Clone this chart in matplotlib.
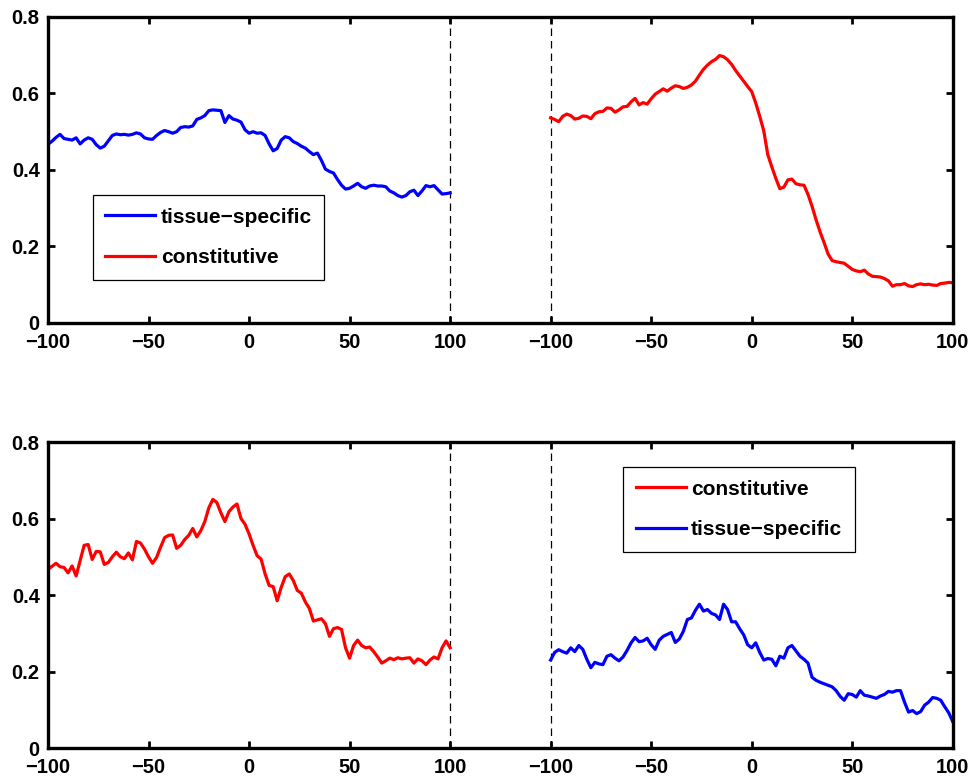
import numpy as np
import matplotlib.pyplot as plt

plt.rcParams['font.family'] = ['Liberation Sans', 'DejaVu Sans']
plt.rcParams['font.weight'] = 'bold'

# position relative to the site, sampled every 2
pos = np.arange(-100, 101, 2)
gap_shift = 250  # right-hand segment is drawn shifted along x

top_tissue = [
    0.467, 0.475, 0.485, 0.493, 0.482, 0.480, 0.478, 0.484, 0.468, 0.478,
    0.484, 0.480, 0.466, 0.457, 0.462, 0.476, 0.490, 0.494, 0.492, 0.493,
    0.491, 0.493, 0.497, 0.494, 0.484, 0.481, 0.480, 0.490, 0.498, 0.503,
    0.500, 0.496, 0.500, 0.511, 0.513, 0.512, 0.515, 0.532, 0.536, 0.542,
    0.555, 0.557, 0.556, 0.555, 0.524, 0.542, 0.533, 0.530, 0.525, 0.505,
    0.496, 0.500, 0.496, 0.497, 0.490, 0.468, 0.450, 0.456, 0.478, 0.487,
    0.484, 0.474, 0.469, 0.462, 0.457, 0.448, 0.440, 0.444, 0.425, 0.402,
    0.396, 0.392, 0.375, 0.360, 0.350, 0.352, 0.358, 0.365, 0.356, 0.352,
    0.358, 0.360, 0.358, 0.358, 0.356, 0.345, 0.340, 0.333, 0.329, 0.333,
    0.343, 0.347, 0.333, 0.345, 0.359, 0.356, 0.359, 0.348, 0.337, 0.338,
    0.340,
]
top_const = [
    0.536, 0.532, 0.526, 0.540, 0.546, 0.542, 0.533, 0.535, 0.541, 0.540,
    0.534, 0.547, 0.552, 0.553, 0.562, 0.561, 0.551, 0.557, 0.565, 0.566,
    0.578, 0.587, 0.570, 0.576, 0.572, 0.586, 0.598, 0.605, 0.612, 0.606,
    0.614, 0.620, 0.618, 0.613, 0.616, 0.622, 0.632, 0.648, 0.663, 0.674,
    0.683, 0.689, 0.699, 0.696, 0.688, 0.676, 0.660, 0.646, 0.632, 0.618,
    0.605, 0.575, 0.540, 0.502, 0.440, 0.408, 0.378, 0.351, 0.355, 0.374,
    0.376, 0.364, 0.361, 0.360, 0.336, 0.305, 0.270, 0.238, 0.210, 0.180,
    0.163, 0.160, 0.158, 0.156, 0.148, 0.140, 0.136, 0.134, 0.138, 0.128,
    0.122, 0.121, 0.120, 0.116, 0.110, 0.096, 0.100, 0.100, 0.103, 0.097,
    0.095, 0.100, 0.102, 0.100, 0.101, 0.099, 0.098, 0.103, 0.104, 0.106,
    0.105,
]
bot_const = [
    0.467, 0.475, 0.483, 0.474, 0.472, 0.458, 0.476, 0.450, 0.490, 0.530,
    0.532, 0.493, 0.514, 0.513, 0.480, 0.485, 0.500, 0.512, 0.500, 0.495,
    0.510, 0.492, 0.540, 0.536, 0.520, 0.500, 0.483, 0.498, 0.525, 0.550,
    0.556, 0.557, 0.522, 0.530, 0.545, 0.556, 0.574, 0.552, 0.568, 0.592,
    0.628, 0.650, 0.642, 0.615, 0.592, 0.618, 0.630, 0.638, 0.600, 0.585,
    0.560, 0.530, 0.503, 0.494, 0.455, 0.425, 0.422, 0.385, 0.420, 0.448,
    0.455, 0.438, 0.412, 0.405, 0.382, 0.365, 0.332, 0.335, 0.338, 0.325,
    0.292, 0.312, 0.315, 0.310, 0.262, 0.235, 0.268, 0.282, 0.268, 0.262,
    0.264, 0.252, 0.238, 0.222, 0.228, 0.235, 0.231, 0.236, 0.233, 0.235,
    0.236, 0.222, 0.233, 0.228, 0.218, 0.230, 0.238, 0.233, 0.262, 0.280,
    0.262,
]
bot_tissue = [
    0.230, 0.250, 0.257, 0.252, 0.248, 0.262, 0.252, 0.268, 0.258, 0.232,
    0.210, 0.224, 0.220, 0.218, 0.240, 0.244, 0.235, 0.228, 0.238, 0.255,
    0.275, 0.289, 0.278, 0.280, 0.287, 0.270, 0.258, 0.282, 0.292, 0.297,
    0.302, 0.276, 0.285, 0.305, 0.336, 0.340, 0.360, 0.376, 0.358, 0.362,
    0.352, 0.348, 0.336, 0.376, 0.362, 0.330, 0.330, 0.312, 0.296, 0.270,
    0.262, 0.275, 0.250, 0.230, 0.234, 0.232, 0.215, 0.240, 0.235, 0.262,
    0.268, 0.254, 0.240, 0.232, 0.222, 0.185, 0.177, 0.172, 0.168, 0.164,
    0.160, 0.150, 0.135, 0.125, 0.142, 0.140, 0.133, 0.150, 0.138, 0.136,
    0.133, 0.130, 0.136, 0.140, 0.148, 0.146, 0.150, 0.150, 0.120, 0.094,
    0.098, 0.090, 0.095, 0.112, 0.120, 0.132, 0.130, 0.125, 0.108, 0.092,
    0.069,
]

tick_pos = [-100, -50, 0, 50, 100, 150, 200, 250, 300, 350]
tick_lab = ['\u2212100', '\u221250', '0', '50', '100',
            '\u2212100', '\u221250', '0', '50', '100']
ytick_pos = [0, 0.2, 0.4, 0.6, 0.8]
ytick_lab = ['0', '0.2', '0.4', '0.6', '0.8']

fig = plt.figure(figsize=(9.75, 7.8), dpi=100)
ax1 = fig.add_axes([0.0492, 0.586, 0.928, 0.3923])
ax2 = fig.add_axes([0.0492, 0.041, 0.928, 0.3923])


def style(ax):
    ax.set_xlim(-100, 350)
    ax.set_ylim(0, 0.8)
    ax.set_xticks(tick_pos)
    ax.set_xticklabels(tick_lab)
    ax.set_yticks(ytick_pos)
    ax.set_yticklabels(ytick_lab)
    ax.tick_params(direction='in', length=5, width=2, labelsize=14.5,
                   top=True, right=True)
    ax.tick_params(axis='x', pad=7.5)
    ax.tick_params(axis='y', pad=6)
    for s in ax.spines.values():
        s.set_linewidth(2.4)
    for xv in (100, 150):
        ax.axvline(xv, color='black', lw=0.9, ls=(0, (6, 4)), zorder=1)


def add_legend(ax, loc_xy):
    leg = ax.legend(loc='upper left', bbox_to_anchor=loc_xy, borderaxespad=0,
                    fancybox=False, framealpha=1, edgecolor='black',
                    prop={'weight': 'bold', 'size': 15}, handlelength=2.4,
                    handletextpad=0.25, labelspacing=1.05, borderpad=0.6)
    leg.get_frame().set_linewidth(0.9)


# upper panel: tissue-specific on the left, constitutive on the right
ax1.plot(pos, top_tissue, color='#0000ff', lw=2.3, label='tissue\u2212specific')
ax1.plot(pos + gap_shift, top_const, color='#ff0000', lw=2.3, label='constitutive')
style(ax1)
add_legend(ax1, (0.0497, 0.418))

# lower panel: constitutive on the left, tissue-specific on the right
ax2.plot(pos, bot_const, color='#ff0000', lw=2.3, label='constitutive')
ax2.plot(pos + gap_shift, bot_tissue, color='#0000ff', lw=2.3, label='tissue\u2212specific')
style(ax2)
add_legend(ax2, (0.636, 0.918))

fig.savefig('out.png', dpi=100)
